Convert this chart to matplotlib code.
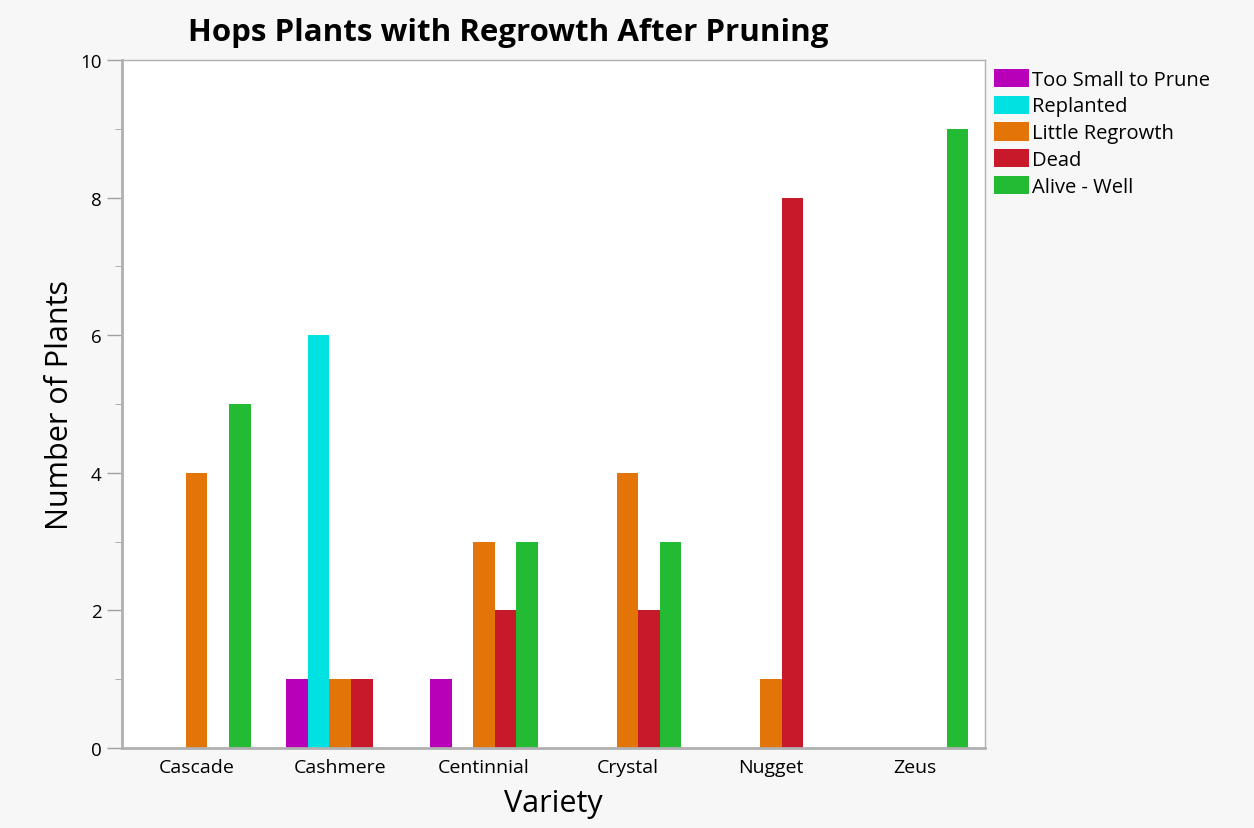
import numpy as np
import matplotlib
matplotlib.use("Agg")
import matplotlib.pyplot as plt
from matplotlib.ticker import MultipleLocator

# data
varieties = ["Cascade", "Cashmere", "Centinnial", "Crystal", "Nugget", "Zeus"]
status = ["Too Small to Prune", "Replanted", "Little Regrowth", "Dead", "Alive - Well"]

too_small = [0, 1, 1, 0, 0, 0]
replanted = [0, 6, 0, 0, 0, 0]
little_regrowth = [4, 1, 3, 4, 1, 0]
dead = [0, 1, 2, 2, 8, 0]
alive_well = [5, 0, 3, 3, 0, 9]

series = [too_small, replanted, little_regrowth, dead, alive_well]
colors = ["#b900b9", "#00e1e1", "#e37408", "#c8192b", "#22bb33"]

plt.rcParams["font.family"] = ["Open Sans", "DejaVu Sans"]

fig = plt.figure(figsize=(12.54, 8.29), dpi=100, facecolor="#f7f7f7")
ax = fig.add_axes([122 / 1254, 1 - 749 / 829, 863 / 1254, 688 / 829])
ax.set_facecolor("white")

x = np.arange(len(varieties))
w = 0.15
for i, (vals, col, lab) in enumerate(zip(series, colors, status)):
    ax.bar(x + (i - 2) * w, vals, width=w, color=col, label=lab)

ax.set_xlim(-0.52, 5.49)
ax.set_ylim(0, 10)
ax.yaxis.set_major_locator(MultipleLocator(2))
ax.yaxis.set_minor_locator(MultipleLocator(1))
ax.set_xticks(x)
ax.set_xticklabels(varieties, fontsize=14)
ax.tick_params(axis="y", labelsize=13.5, color="#a0a0a0", length=11, width=1)
ax.tick_params(axis="y", which="minor", color="#a0a0a0", length=5)
ax.tick_params(axis="x", length=0, pad=7)

for s in ax.spines.values():
    s.set_color("#b0b0b0")
    s.set_linewidth(1)
ax.spines["left"].set_linewidth(2)
ax.spines["bottom"].set_linewidth(2)

ax.set_ylabel("Number of Plants", fontsize=22, labelpad=4)
ax.set_xlabel("Variety", fontsize=22, labelpad=9)

fig.text(508 / 1254, 1 - 33 / 829, "Hops Plants with Regrowth After Pruning",
         fontsize=22.5, fontweight="bold", ha="center", va="center")

leg = ax.legend(loc="upper left", bbox_to_anchor=(0.994, 1.008), frameon=False,
                fontsize=14.5, handlelength=1.75, handleheight=1.0,
                handletextpad=0.15, labelspacing=0.3, borderaxespad=0.3)

fig.savefig("out.png", dpi=100, facecolor=fig.get_facecolor())
